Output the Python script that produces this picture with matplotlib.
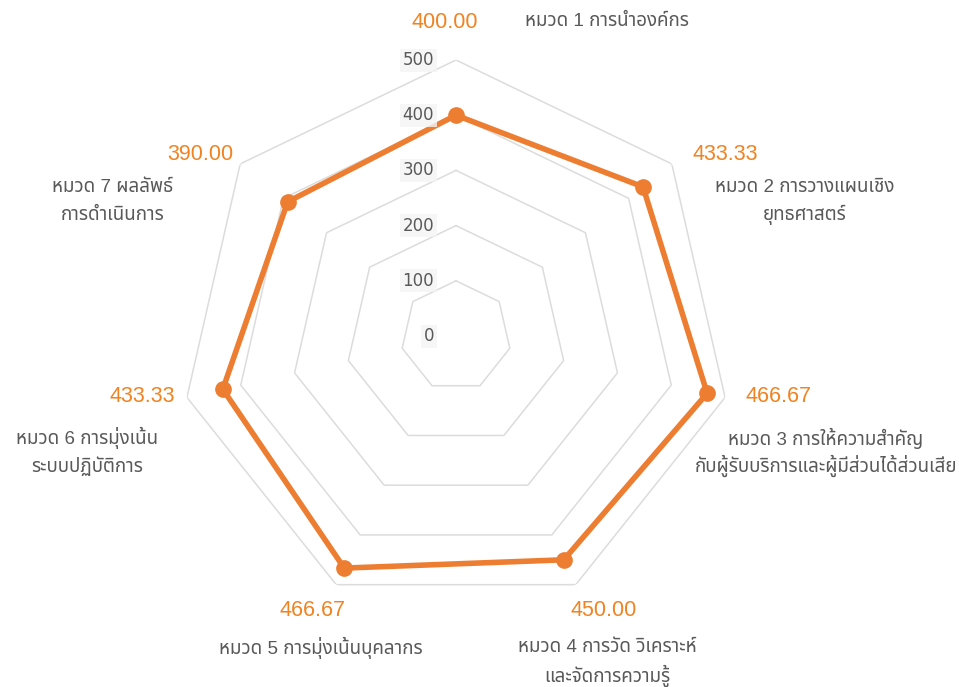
import matplotlib
matplotlib.use("Agg")
import matplotlib.pyplot as plt
import matplotlib.transforms as mtransforms
import numpy as np

categories = [
    "หมวด 1 การนำองค์กร",
    "หมวด 2 การวางแผนเชิง\nยุทธศาสตร์",
    "หมวด 3 การให้ความสำคัญ\nกับผู้รับบริการและผู้มีส่วนได้ส่วนเสีย",
    "หมวด 4 การวัด วิเคราะห์\nและจัดการความรู้",
    "หมวด 5 การมุ่งเน้นบุคลากร",
    "หมวด 6 การมุ่งเน้น\nระบบปฏิบัติการ",
    "หมวด 7 ผลลัพธ์\nการดำเนินการ",
]
values = [400.00, 433.33, 466.67, 450.00, 466.67, 433.33, 390.00]
ticks = [0, 100, 200, 300, 400, 500]

W, H = 959, 687
fig = plt.figure(figsize=(W / 100, H / 100), dpi=100)
cx, cy, R = 456, 336, 276
ax = fig.add_axes([(cx - R) / W, (H - cy - R) / H, 2 * R / W, 2 * R / H], projection="polar")
ax.set_theta_offset(np.pi / 2)
ax.set_theta_direction(-1)
ax.set_ylim(0, 500)
ax.grid(False)
ax.spines["polar"].set_visible(False)
ax.set_xticks([])
ax.set_yticks([])
ax.patch.set_alpha(0)

n = len(categories)
theta = np.arange(n) * 2 * np.pi / n
theta_c = np.append(theta, theta[0])

grid_c = "#dcdcdc"
for t in ticks[1:]:
    ax.plot(theta_c, [t] * (n + 1), color=grid_c, lw=1.1, zorder=1)

vals_c = values + [values[0]]
ax.plot(theta_c, vals_c, color="#ED7D31", lw=4, zorder=3, solid_joinstyle="miter")
ax.plot(theta, values, "o", color="#ED7D31", ms=11, zorder=4)

shift = ax.transData + mtransforms.ScaledTranslation(-0.22, 0.0, fig.dpi_scale_trans)
for t in ticks:
    ax.text(0, t, str(t), transform=shift, fontsize=12, color="#595959",
            family="DejaVu Sans", ha="right", va="center", zorder=5,
            bbox=dict(boxstyle="square,pad=0.15", fc="#f4f4f4", ec="none", alpha=0.8))

thai = ["Liberation Sans", "Noto Sans Thai"]
orange = "#F08322"
gray = "#595959"

# label layout in pixels: value centre, name anchor (first line), name alignment
layout = [
    ((445, 22), (525, 22), "left"),
    ((725, 155), (805, 187), "center"),
    ((778, 396), (826, 438), "center"),
    ((604, 611), (607, 648), "center"),
    ((313, 611), (321, 648), "center"),
    ((142, 396), (87, 438), "center"),
    ((200, 155), (113, 187), "center"),
]

def fx(px):
    return px / W

def fy(py):
    return (H - py) / H

for i, ((vx, vy), (nx, ny), ha) in enumerate(layout):
    fig.text(fx(vx), fy(vy), f"{values[i]:.2f}", color=orange, fontsize=15.5,
             family=thai, ha="center", va="center")
    for j, line in enumerate(categories[i].split("\n")):
        fig.text(fx(nx), fy(ny + 28 * j), line, color=gray, fontsize=13.5,
                 family=thai, ha=ha, va="center")

fig.savefig("out.png", dpi=100)
